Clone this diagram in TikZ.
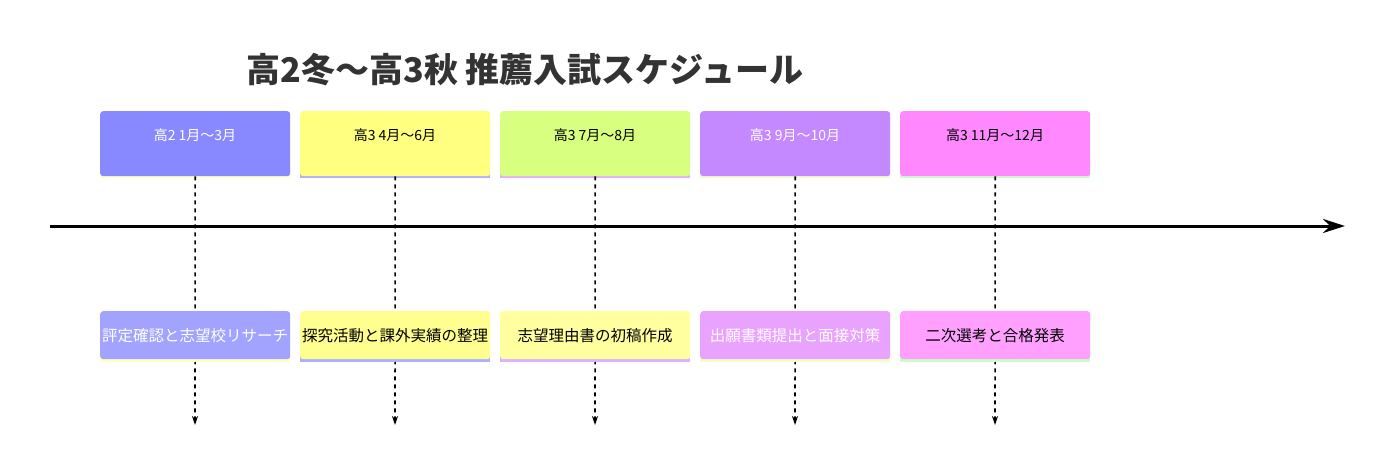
\documentclass[tikz,border=0pt]{standalone}
\usepackage{fontspec}
\setmainfont{Noto Sans CJK JP}
\usetikzlibrary{arrows.meta}
\definecolor{pA}{HTML}{8888FF}\definecolor{eA}{HTML}{A2A2FF}\definecolor{sA}{HTML}{FFFFC8}
\definecolor{pB}{HTML}{FFFF80}\definecolor{eB}{HTML}{FFFF90}\definecolor{sB}{HTML}{B0B0FF}
\definecolor{pC}{HTML}{D9FF80}\definecolor{eC}{HTML}{FFFFA0}\definecolor{sC}{HTML}{E0B0FF}
\definecolor{pD}{HTML}{C488FF}\definecolor{eD}{HTML}{EAA2FF}\definecolor{sD}{HTML}{F0FFC8}
\definecolor{pE}{HTML}{FF88FF}\definecolor{eE}{HTML}{FFA0FF}\definecolor{sE}{HTML}{C8FFC8}
\tikzset{
 period/.style={rounded corners=3pt,minimum width=190pt,minimum height=65pt,inner sep=0pt},
 event/.style={rounded corners=3pt,minimum width=190pt,minimum height=48pt,inner sep=0pt},
 vline/.style={dash pattern=on 4pt off 4pt,line width=1.6pt,-{Stealth[length=9pt,width=6pt]}},
 plab/.style={font=\fontsize{14}{16}\selectfont},
 elab/.style={font=\fontsize{15.5}{18}\selectfont}
}
\begin{document}
\begin{tikzpicture}[x=1pt,y=-1pt]
\useasboundingbox (0,0) rectangle (1391,473);
\node[font=\fontsize{34}{40}\selectfont\bfseries,text=black!80] (title) at (525,70) {高2冬〜高3秋 推薦入試スケジュール};
\draw[line width=3pt,-{Stealth[length=22pt,width=14pt]}] (50,226) coordinate (axs) -- (1345,226) coordinate (axe);
\foreach \i/\x/\pc/\ec/\sc/\tc/\pt/\et in {
 1/100/pA/eA/sA/white/{高2 1月〜3月}/{評定確認と志望校リサーチ},
 2/300/pB/eB/sB/black/{高3 4月〜6月}/{探究活動と課外実績の整理},
 3/500/pC/eC/sC/black/{高3 7月〜8月}/{志望理由書の初稿作成},
 4/700/pD/eD/sD/white/{高3 9月〜10月}/{出願書類提出と面接対策},
 5/900/pE/eE/sE/black/{高3 11月〜12月}/{二次選考と合格発表}}{
 \coordinate (end\i) at (\x+95,425);
 \fill[\sc] (\x,173) rectangle (\x+190,178);
 \node[period,fill=\pc,anchor=north west] (p\i) at (\x,111) {};
 \node[plab,text=\tc] (pt\i) at (\x+95,135) {\pt};
 \draw[vline] (p\i.south) -- (end\i);
 \fill[\sc] (\x,356) rectangle (\x+190,362);
 \node[event,fill=\ec,anchor=north west] (e\i) at (\x,311) {};
 \node[elab,text=\tc] (et\i) at (e\i) {\et};
}
\end{tikzpicture}
\end{document}
